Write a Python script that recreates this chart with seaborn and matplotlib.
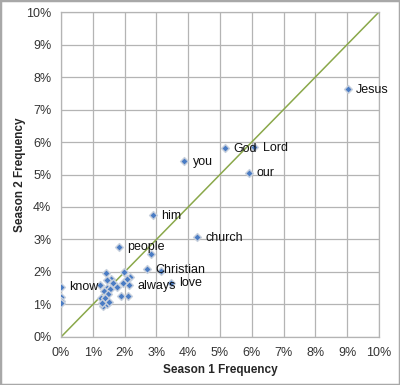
import matplotlib
matplotlib.use("Agg")
import matplotlib.pyplot as plt
import matplotlib.ticker as mticker
from matplotlib.patches import Rectangle
import pandas as pd
import seaborn as sns

# ── Data (percent frequency per season) ───────────────────────────────────────
labeled_words = ["Jesus", "God", "Lord", "you", "our", "him", "church",
                 "people", "Christian", "love", "always", "know"]
labeled_s1 = [9.02, 5.17, 6.08, 3.88, 5.90, 2.88, 4.27, 1.83, 2.70, 3.46, 2.14, 0.00]
labeled_s2 = [7.63, 5.82, 5.84, 5.42, 5.06, 3.74, 3.07, 2.78, 2.09, 1.67, 1.60, 1.55]

other_s1 = [2.82, 3.14, 0.00, 0.00, 0.00, 1.41, 1.57, 1.44, 1.98, 2.17, 2.07,
            1.63, 1.23, 1.96, 1.75, 1.44, 1.54, 1.36, 1.49, 1.26, 1.38, 1.89,
            2.10, 1.31, 1.44, 1.52, 1.28]
other_s2 = [2.55, 2.03, 1.24, 1.12, 1.04, 1.96, 1.77, 1.75, 2.01, 1.86, 1.77,
            1.65, 1.60, 1.65, 1.55, 1.50, 1.47, 1.42, 1.32, 1.19, 1.19, 1.26,
            1.26, 0.95, 1.02, 1.09, 1.04]

diag = [0, 10]

df = pd.DataFrame({
    "s1": labeled_s1 + other_s1,
    "s2": labeled_s2 + other_s2,
    "word": labeled_words + [""] * len(other_s1),
})

# ── Style ─────────────────────────────────────────────────────────────────────
sns.set_theme(style="white")
plt.rcParams["font.family"] = ["Liberation Sans", "DejaVu Sans"]

fig = plt.figure(figsize=(4.0, 3.85), dpi=100)
ax = fig.add_axes([0.1525, 0.1247, 0.795, 0.8441])

ax.plot(diag, diag, color="#8aa84a", linewidth=1.1, zorder=2)

sns.scatterplot(data=df, x="s1", y="s2", marker="D", s=16, color="#4a7cc4",
                edgecolor="#c8d0dc", linewidth=1.0, zorder=3, ax=ax)

for _, row in df[df["word"] != ""].iterrows():
    ax.annotate(row["word"], (row["s1"], row["s2"]), xytext=(6, -0.5),
                textcoords="offset points", va="center", ha="left",
                fontsize=9, color="#111111", zorder=4)

ax.set_xlim(0, 10)
ax.set_ylim(0, 10)
ax.xaxis.set_major_locator(mticker.MultipleLocator(1))
ax.yaxis.set_major_locator(mticker.MultipleLocator(1))
fmt = mticker.FuncFormatter(lambda v, _: f"{int(round(v))}%")
ax.xaxis.set_major_formatter(fmt)
ax.yaxis.set_major_formatter(fmt)
ax.grid(True, color="#b4b4b4", linewidth=0.9)
ax.tick_params(axis="both", length=0, labelsize=9, pad=7, colors="#333333")
for side in ax.spines.values():
    side.set_color("#b4b4b4")
    side.set_linewidth(0.9)

ax.set_xlabel("Season 1 Frequency", fontsize=8.5, fontweight="bold", labelpad=4)
ax.set_ylabel("Season 2 Frequency", fontsize=8.5, fontweight="bold", labelpad=0)

fig.patches.append(Rectangle((0, 0), 1, 1, transform=fig.transFigure,
                             fill=False, edgecolor="#a8a8a8", linewidth=2.5))

fig.savefig("out.png", dpi=100)
plt.close(fig)
